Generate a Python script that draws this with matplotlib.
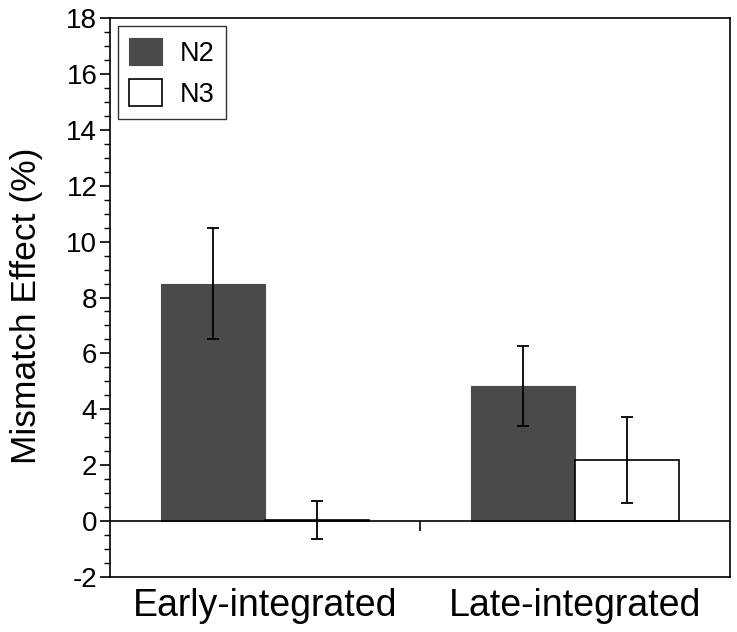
import numpy as np
import matplotlib.pyplot as plt
from matplotlib.ticker import MultipleLocator

plt.rcParams['font.family'] = ['Liberation Sans', 'DejaVu Sans']
plt.rcParams['axes.unicode_minus'] = False

groups = ['Early-integrated', 'Late-integrated']
n2_vals = [8.5, 4.84]
n2_err = [1.97, 1.43]
n3_vals = [0.03, 2.18]
n3_err = [0.68, 1.53]

fig = plt.figure(figsize=(7.37, 6.32), dpi=100)
ax = fig.add_axes([0.149, 0.087, 0.8415, 0.8845])

x = np.array([0.5, 1.5])
w = 0.335
ax.bar(x - w/2, n2_vals, w, color='#4a4a4a', edgecolor='#4a4a4a', lw=0.8, label='N2', zorder=2)
ax.bar(x + w/2, n3_vals, w, color='white', edgecolor='black', lw=1.2, label='N3', zorder=2)
ax.errorbar(x - w/2, n2_vals, yerr=n2_err, fmt='none', ecolor='black', elinewidth=1.3, capsize=4, capthick=1.3, zorder=3)
ax.errorbar(x + w/2, n3_vals, yerr=n3_err, fmt='none', ecolor='black', elinewidth=1.3, capsize=4, capthick=1.3, zorder=3)

ax.axhline(0, color='black', lw=1.2, zorder=4)
# small separator mark between groups on the zero line
ax.vlines(1.0, -0.35, 0, color='black', lw=1.2)

ax.set_xlim(0, 2)
ax.set_ylim(-2, 18)
ax.yaxis.set_major_locator(MultipleLocator(2))
ax.yaxis.set_minor_locator(MultipleLocator(0.5))
ax.set_xticks(x)
ax.set_xticklabels(groups, fontsize=27)
ax.tick_params(axis='x', length=0, pad=8)
ax.tick_params(axis='y', which='major', length=7, width=1.2, labelsize=20, pad=2)
ax.tick_params(axis='y', which='minor', length=4, width=1.0)
for s in ax.spines.values():
    s.set_linewidth(1.2)

ax.set_ylabel('Mismatch Effect (%)', fontsize=25.5, labelpad=0)
ax.yaxis.set_label_coords(-0.107, 0.485)

leg = ax.legend(loc='upper left', fontsize=19.5, frameon=True, fancybox=False,
                edgecolor='black', handlelength=1.2, handleheight=1.2,
                borderpad=0.42, labelspacing=0.45, handletextpad=0.65,
                borderaxespad=0.3)
leg.get_frame().set_linewidth(1.0)

fig.savefig('out.png', dpi=100)
